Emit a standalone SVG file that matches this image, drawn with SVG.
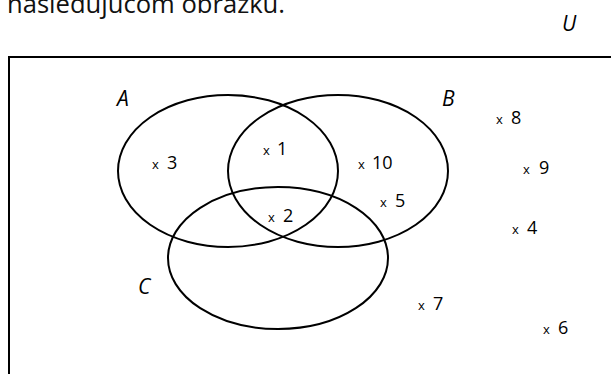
<svg xmlns="http://www.w3.org/2000/svg" width="611" height="374" viewBox="0 0 611 374">
<style>
.sh{fill:none;stroke:#000;stroke-width:2}
.lbl{font-family:"Open Sans","Liberation Sans",sans-serif;font-style:italic;font-size:21px;fill:#000}
.x{font-family:"Open Sans","Liberation Sans",sans-serif;font-size:13px;fill:#000}
.n{font-family:"Open Sans","Liberation Sans",sans-serif;font-size:18px;fill:#000}
</style>
<rect width="611" height="374" fill="#fff"/>
<text x="7" y="13" font-family="'Open Sans','Liberation Sans',sans-serif" font-size="26" textLength="278" lengthAdjust="spacingAndGlyphs" fill="#111">nasledujúcom obrázku.</text>
<text class="lbl" x="562" y="31">U</text>
<g id="universe"><rect class="sh" x="9" y="57" width="620" height="340"/></g>
<g id="setA"><ellipse class="sh" cx="228" cy="171" rx="110" ry="76"/><text class="lbl" x="117" y="106">A</text></g>
<g id="setB"><ellipse class="sh" cx="338" cy="171" rx="110" ry="76"/><text class="lbl" x="442" y="106">B</text></g>
<g id="setC"><ellipse class="sh" cx="278" cy="258" rx="110" ry="71"/><text class="lbl" x="138" y="294">C</text></g>
<g id="elements">
<text x="152" y="169"><tspan class="x">x</tspan><tspan class="n" x="167">3</tspan></text>
<text x="263" y="155"><tspan class="x">x</tspan><tspan class="n" x="277">1</tspan></text>
<text x="268" y="222"><tspan class="x">x</tspan><tspan class="n" x="283">2</tspan></text>
<text x="358" y="169"><tspan class="x">x</tspan><tspan class="n" x="372">10</tspan></text>
<text x="380" y="207"><tspan class="x">x</tspan><tspan class="n" x="395">5</tspan></text>
<text x="496" y="124"><tspan class="x">x</tspan><tspan class="n" x="511">8</tspan></text>
<text x="523" y="174"><tspan class="x">x</tspan><tspan class="n" x="539">9</tspan></text>
<text x="512" y="234"><tspan class="x">x</tspan><tspan class="n" x="527">4</tspan></text>
<text x="418" y="310"><tspan class="x">x</tspan><tspan class="n" x="433">7</tspan></text>
<text x="543" y="334"><tspan class="x">x</tspan><tspan class="n" x="558">6</tspan></text>
</g>
</svg>
